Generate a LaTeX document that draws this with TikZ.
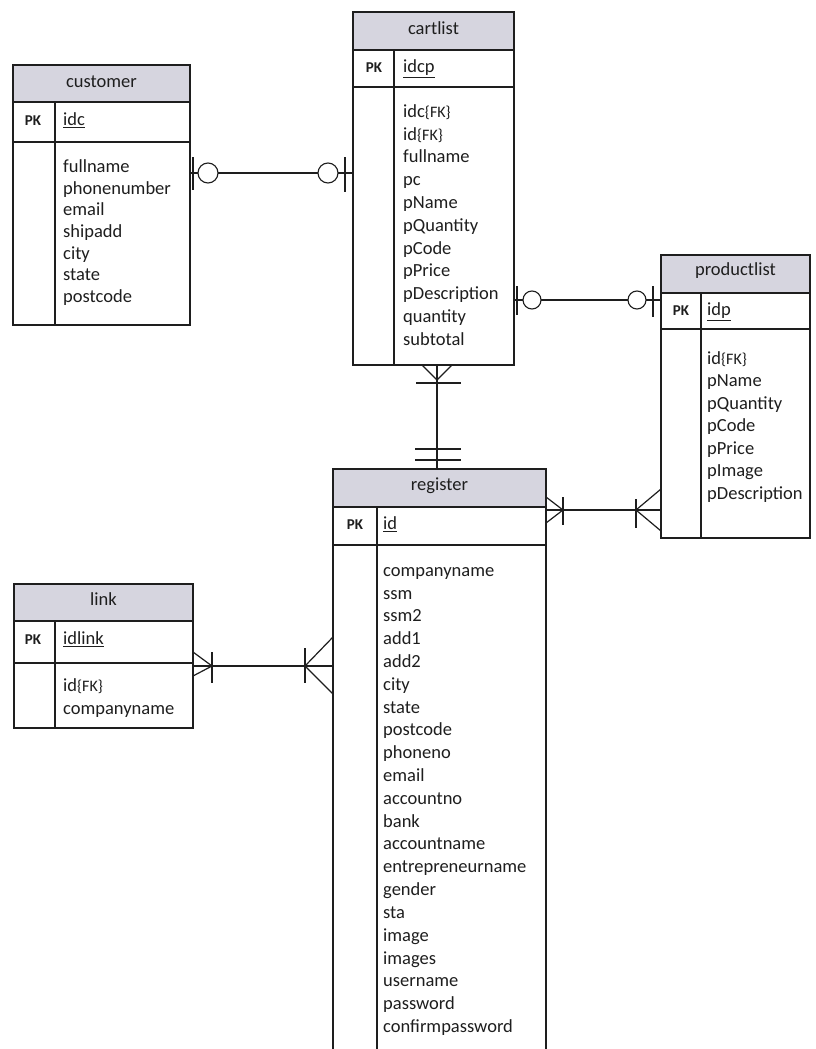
\documentclass[tikz,border=0pt]{standalone}
\usepackage{fontspec}
\setmainfont{Carlito}
\definecolor{hdrfill}{RGB}{214,213,223}
\definecolor{ink}{RGB}{30,30,30}
\newcommand\fkmark{{\fontsize{16}{16}\selectfont\{FK\}}}
\begin{document}
\begin{tikzpicture}[x=1pt,y=-1pt,
  tbl/.style={draw=ink,line width=1.3pt,inner sep=0pt,outer sep=0pt,anchor=north west},
  sep/.style={draw=ink,line width=1.3pt},
  conn/.style={draw=ink,line width=1.2pt},
  txt/.style={font=\fontsize{18.5}{22}\selectfont,text=ink,inner sep=0pt,anchor=mid west},
  ttl/.style={font=\fontsize{18.5}{22}\selectfont,text=ink,inner sep=0pt,anchor=mid},
  pk/.style={font=\fontsize{15}{18}\selectfont\bfseries,text=ink,inner sep=0pt,anchor=mid},
  ring/.style={draw=ink,line width=1.1pt,fill=white}]
\useasboundingbox (0,0) rectangle (816,1049);
\clip (0,0) rectangle (816,1049);
\fill[white] (0,0) rectangle (816,1049);

% ---------- customer ----------
\fill[hdrfill] (13,65) rectangle (190,102);
\node[tbl,minimum width=177pt,minimum height=260pt] (customer) at (13,65) {};
\draw[sep] (13,102) -- (190,102);
\draw[sep] (13,142) -- (190,142);
\draw[sep] (55,102) -- (55,325);
\node[ttl] (customerT) at (101.5,85) {customer};
\node[pk] (customerPK) at (33,123) {PK};
\node[txt] (customerK) at (63,123) {\underline{idc}};
\foreach \t [count=\i from 0] in {fullname,phonenumber,email,shipadd,city,state,postcode}
  \node[txt] (customerF\i) at (63,{170+21.7*\i}) {\t};

% ---------- cartlist ----------
\fill[hdrfill] (353,12) rectangle (514,50);
\node[tbl,minimum width=161pt,minimum height=353pt] (cartlist) at (353,12) {};
\draw[sep] (353,50) -- (514,50);
\draw[sep] (353,87) -- (514,87);
\draw[sep] (394,50) -- (394,365);
\node[ttl] (cartlistT) at (433.5,32) {cartlist};
\node[pk] (cartlistPK) at (374,70) {PK};
\node[txt] (cartlistK) at (403,70) {\underline{idcp}};
\foreach \t [count=\i from 0] in {idc\fkmark,id\fkmark,fullname,pc,pName,pQuantity,pCode,pPrice,pDescription,quantity,subtotal}
  \node[txt] (cartlistF\i) at (403,{115+22.8*\i}) {\t};

% ---------- productlist ----------
\fill[hdrfill] (661,255) rectangle (810,293);
\node[tbl,minimum width=149pt,minimum height=283pt] (productlist) at (661,255) {};
\draw[sep] (661,293) -- (810,293);
\draw[sep] (661,329) -- (810,329);
\draw[sep] (701,293) -- (701,538);
\node[ttl] (productlistT) at (735.5,273) {productlist};
\node[pk] (productlistPK) at (681,313) {PK};
\node[txt] (productlistK) at (707,313) {\underline{idp}};
\foreach \t [count=\i from 0] in {id\fkmark,pName,pQuantity,pCode,pPrice,pImage,pDescription}
  \node[txt] (productlistF\i) at (707,{362+22.5*\i}) {\t};

% ---------- register ----------
\fill[hdrfill] (333,469) rectangle (546,507);
\node[tbl,minimum width=213pt,minimum height=600pt] (register) at (333,469) {};
\draw[sep] (333,507) -- (546,507);
\draw[sep] (333,545) -- (546,545);
\draw[sep] (377,507) -- (377,1069);
\node[ttl] (registerT) at (439.5,488) {register};
\node[pk] (registerPK) at (355,527) {PK};
\node[txt] (registerK) at (383,527) {\underline{id}};
\foreach \t [count=\i from 0] in {companyname,ssm,ssm2,add1,add2,city,state,postcode,phoneno,email,accountno,bank,accountname,entrepreneurname,gender,sta,image,images,username,password,confirmpassword}
  \node[txt] (registerF\i) at (383,{574+22.8*\i}) {\t};

% ---------- link ----------
\fill[hdrfill] (14,584) rectangle (193,621);
\node[tbl,minimum width=179pt,minimum height=144pt] (link) at (14,584) {};
\draw[sep] (14,621) -- (193,621);
\draw[sep] (14,663) -- (193,663);
\draw[sep] (55,621) -- (55,728);
\node[ttl] (linkT) at (103.5,603) {link};
\node[pk] (linkPK) at (33,642) {PK};
\node[txt] (linkK) at (63,642) {\underline{idlink}};
\node[txt] (linkF0) at (63,689) {id\fkmark};
\node[txt] (linkF1) at (63,712) {companyname};

% ---------- connector customer -- cartlist ----------
\draw[conn] (customer.east |- 0,173) -- (cartlist.west |- 0,173);
\draw[conn] (193,157) -- (193,190);
\draw[ring] (208,173) circle (10pt);
\draw[ring] (328,173) circle (10pt);
\draw[conn] (345,157) -- (345,192);

% ---------- connector cartlist -- productlist ----------
\draw[conn] (cartlist.east |- 0,300) -- (productlist.west |- 0,300);
\draw[conn] (517,286) -- (517,315);
\draw[ring] (532,300) circle (9pt);
\draw[ring] (637,300) circle (9pt);
\draw[conn] (653,286) -- (653,317);

% ---------- connector cartlist -- register ----------
\draw[conn] (cartlist.south -| 437,0) -- (register.north -| 437,0);
\draw[conn] (422,365) -- (437,380) -- (452,365);
\draw[conn] (416,383) -- (461,383);
\draw[conn] (415,449) -- (461,449);
\draw[conn] (415,460) -- (461,460);

% ---------- connector register -- productlist ----------
\draw[conn] (register.east |- 0,510) -- (productlist.west |- 0,510);
\draw[conn] (546,497) -- (563,510) -- (546,523);
\draw[conn] (563,497) -- (563,525);
\draw[conn] (636,499) -- (636,528);
\draw[conn] (661,489) -- (636,510) -- (661,531);

% ---------- connector link -- register ----------
\draw[conn] (link.east |- 0,666) -- (register.west |- 0,666);
\draw[conn] (193,652) -- (212,666) -- (193,676);
\draw[conn] (212,652) -- (212,683);
\draw[conn] (305,648) -- (305,683);
\draw[conn] (333,637) -- (305,666) -- (333,694);
\end{tikzpicture}
\end{document}
